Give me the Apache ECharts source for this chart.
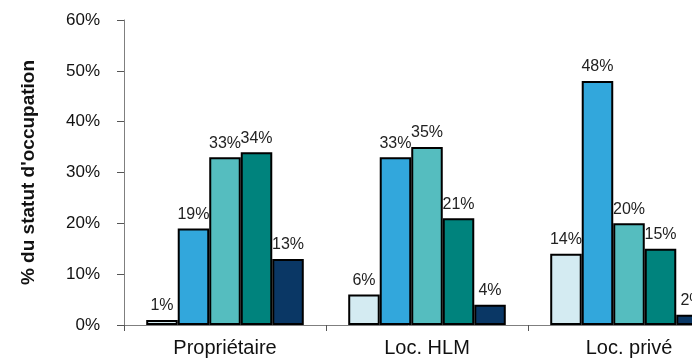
<!DOCTYPE html>
<html>
<head>
<meta charset="utf-8">
<style>
  html, body { margin: 0; padding: 0; background: #fff; }
  #chart { width: 692px; height: 364px; }
</style>
<script src="https://cdn.jsdelivr.net/npm/echarts@6/dist/echarts.min.js"></script>
</head>
<body>
<div id="chart"></div>
<script>
// Répartition par statut d'occupation (en %)
const categories = ['Propriétaire', 'Loc. HLM', 'Loc. privé'];
const seriesNames = ['Groupe 1', 'Groupe 2', 'Groupe 3', 'Groupe 4', 'Groupe 5'];
const groupe1 = [1, 6, 14];
const groupe2 = [19, 33, 48];
const groupe3 = [33, 35, 20];
const groupe4 = [34, 21, 15];
const groupe5 = [13, 4, 2];
const yTicks = [0, 10, 20, 30, 40, 50, 60];

const colors = ['#d4ebf2', '#32a7dc', '#55bdbf', '#00837d', '#0a3765'];
const values = [groupe1, groupe2, groupe3, groupe4, groupe5];
const font = 'Liberation Sans, Arial, sans-serif';

const chart = echarts.init(document.getElementById('chart'));
chart.setOption({
  animation: false,
  backgroundColor: '#ffffff',
  // the plot runs past the right edge of the canvas, so the last group is cut
  grid: { left: 124, top: 20, width: 606, height: 305, containLabel: false, outerBoundsMode: 'none' },
  xAxis: {
    type: 'category',
    data: categories,
    axisLine: { lineStyle: { color: '#7f7f7f', width: 1 } },
    axisTick: { show: true, alignWithLabel: false, length: 6, lineStyle: { color: '#555' } },
    axisLabel: { color: '#111', fontFamily: font, fontSize: 20, margin: 13 }
  },
  yAxis: {
    type: 'value',
    min: yTicks[0],
    max: yTicks[yTicks.length - 1],
    interval: 10,
    name: "% du statut d'occupation",
    nameLocation: 'middle',
    nameGap: 86,
    nameRotate: 90,
    nameTextStyle: { color: '#111', fontFamily: font, fontSize: 19, fontWeight: 'bold' },
    axisLine: { show: true, lineStyle: { color: '#7f7f7f', width: 1 } },
    axisTick: { show: true, length: 7, lineStyle: { color: '#555' } },
    splitLine: { show: false },
    axisLabel: { color: '#111', fontFamily: font, fontSize: 17, margin: 24, formatter: '{value}%' }
  },
  series: values.map((v, i) => ({
    name: seriesNames[i],
    type: 'bar',
    data: v,
    barGap: '0%',
    barCategoryGap: '22%',
    itemStyle: { color: colors[i], borderColor: '#000', borderWidth: 2 },
    label: {
      show: true,
      position: 'top',
      distance: 6,
      formatter: '{c}%',
      color: '#222',
      fontFamily: font,
      fontSize: 16
    }
  }))
});
</script>
</body>
</html>
